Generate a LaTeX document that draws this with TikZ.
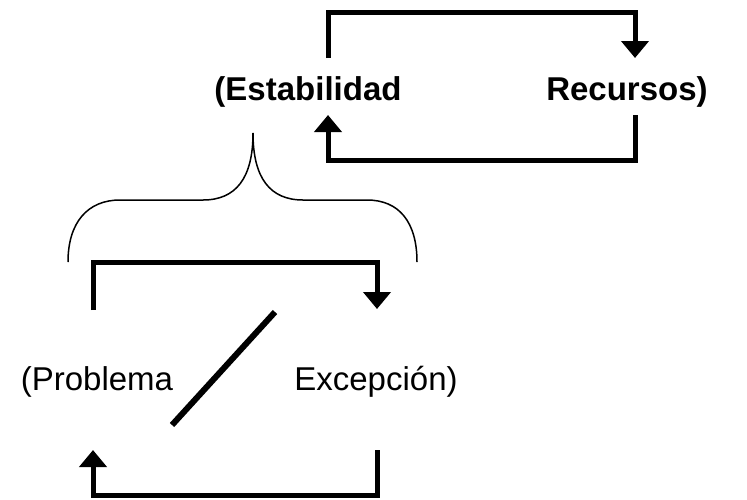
\documentclass[tikz,border=0pt]{standalone}
\usepackage{fontspec}
\setmainfont{Liberation Sans}
\usetikzlibrary{arrows.meta}
\usetikzlibrary{positioning}

\tikzset{
	loop_line/.style={line width=5pt, line join=miter},
	loop_arrow/.style={loop_line, -{Triangle[width=27pt,length=17pt]}},
	word/.style={inner sep=0pt, anchor=base, font=\fontsize{33}{39}\selectfont},
}

\begin{document}
\begin{tikzpicture}[x=1pt, y=-1pt]
	\useasboundingbox (0,0) rectangle (747,499);
	
	%% BAGIAN ATAS (ESTABILIDAD - RECURSOS) %%
	% Tulis kata-kata
	\node[word, font=\fontsize{33}{39}\selectfont\bfseries] (Estab) at (308,100) {(Estabilidad};
	\node[word, font=\fontsize{33}{39}\selectfont\bfseries] (Recur) at (627,100) {Recursos)};
	
	% Deklarasikan ujung-ujung panah
	\coordinate (E_top) at (328,58);
	\coordinate (E_bot) at (328,115);
	\coordinate (R_top) at (635,58);
	\coordinate (R_bot) at (635,115);
	
	% Hubungkan antar titik dengan panah
	\draw[loop_arrow] (E_top) -- (E_top |- 0,12) -- (R_top |- 0,12) -- (R_top);
	\draw[loop_arrow] (R_bot) -- (R_bot |- 0,160) -- (E_bot |- 0,160) -- (E_bot);
	%% AKHIR BAGIAN ATAS %%
	
	%% KURUNG KURAWAL %%
	\coordinate (tip) at (253,133);
	\draw[line width=1.5pt] (68,262) .. controls (68,222) and (88,200) .. (120,200)
		-- (203,200) .. controls (236,200) and (253,178) .. (tip)
		.. controls (253,178) and (270,200) .. (303,200)
		-- (367,200) .. controls (399,200) and (417,222) .. (417,262);
	%% AKHIR KURUNG KURAWAL %%
	
	%% BAGIAN BAWAH (PROBLEMA / EXCEPCION) %%
	% Tulis kata-kata
	\node[word] (Probl) at (97,390) {(Problema};
	\node[word] (Excep) at (376,390) {Excepción)};
	
	% Garis miring di tengah
	\draw[line width=6pt] (275,312) -- (172,425);
	
	% Deklarasikan ujung-ujung panah
	\coordinate (P_top) at (93,310);
	\coordinate (P_bot) at (93,450);
	\coordinate (X_top) at (377,309);
	\coordinate (X_bot) at (377,450);
	
	% Hubungkan antar titik dengan panah
	\draw[loop_arrow] (P_top) -- (P_top |- 0,262) -- (X_top |- 0,262) -- (X_top);
	\draw[loop_arrow] (X_bot) -- (X_bot |- 0,495) -- (P_bot |- 0,495) -- (P_bot);
	%% AKHIR BAGIAN BAWAH %%
\end{tikzpicture}
\end{document}
